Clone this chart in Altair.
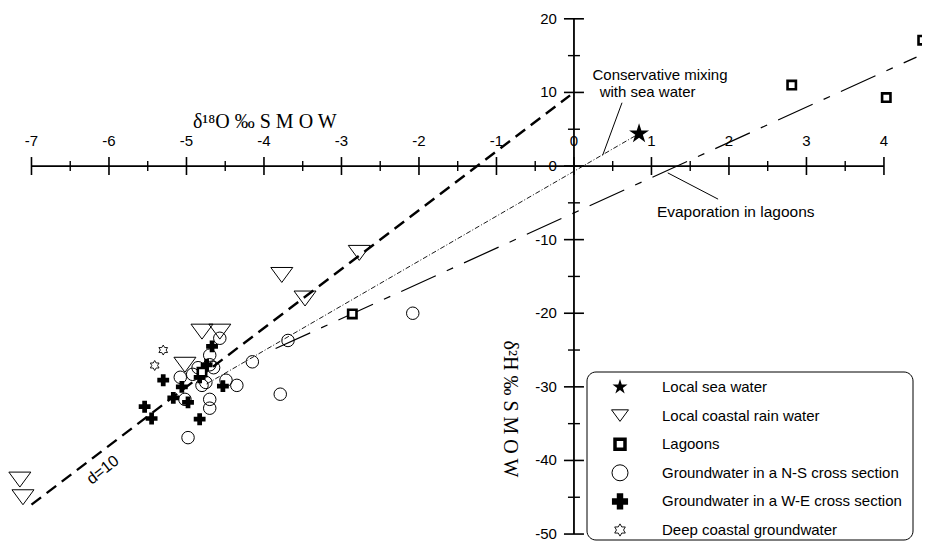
import altair as alt
import pandas as pd

# ---------------- data ----------------
sea_x = [0.84]
sea_y = [4.4]

rain_x = [-7.15, -7.11, -5.02, -4.80, -4.57, -3.77, -3.47, -2.77]
rain_y = [-42.6, -45.0, -27.0, -22.5, -22.5, -14.8, -18.0, -11.8]

lagoon_x = [-4.80, -2.86, 2.81, 4.03, 4.50]
lagoon_y = [-28.0, -20.1, 11.0, 9.3, 17.1]

ns_x = [-4.57, -4.70, -4.70, -4.85, -5.08, -5.02, -4.80, -4.70, -4.70, -4.35,
        -4.49, -4.15, -3.69, -3.79, -4.98, -2.08, -4.92, -4.65, -4.75]
ns_y = [-23.4, -25.7, -27.0, -27.4, -28.7, -31.7, -29.8, -31.7, -32.9, -29.8,
        -29.1, -26.6, -23.7, -31.0, -36.9, -20.0, -28.3, -27.4, -29.4]

we_x = [-5.30, -5.06, -5.17, -5.54, -5.45, -4.98, -4.83, -4.67, -4.53, -4.74, -4.83]
we_y = [-29.1, -30.0, -31.5, -32.7, -34.3, -32.1, -34.4, -24.5, -29.9, -27.0, -28.7]

deep_x = [-5.30, -5.41]
deep_y = [-25.0, -27.1]

# reference lines (end points)
gmwl_x = [-7.0, -0.05]
gmwl_y = [-46.0, 9.6]
mix_x = [-4.74, 0.84]
mix_y = [-29.6, 4.4]
evap_x = [-3.85, 4.42]
evap_y = [-24.8, 14.8]

# axis ticks
x_major = [-7, -6, -5, -4, -3, -2, -1, 0, 1, 2, 3, 4]
x_minor = [-6.5, -5.5, -4.5, -3.5, -2.5, -1.5, -0.5, 0.5, 1.5, 2.5, 3.5]
y_major = [-50, -40, -30, -20, -10, 0, 10, 20]
y_minor = [-45, -35, -25, -15, -5, 5, 15]

legend_labels = ["Local sea water", "Local coastal rain water", "Lagoons",
                 "Groundwater in a N-S cross section",
                 "Groundwater in a W-E cross section",
                 "Deep coastal groundwater"]

# ---------------- layout ----------------
W, H = 914, 534
XMIN, XMAX = -7.303, 4.491
YMIN, YMAX = -51.08, 21.47
PXX = W / (XMAX - XMIN)
PXY = H / (YMAX - YMIN)

xs = alt.Scale(domain=[XMIN, XMAX], nice=False, zero=False)
ys = alt.Scale(domain=[YMIN, YMAX], nice=False, zero=False)
FONT = "Liberation Sans"

TRI = "M-1,-0.68L1,-0.68L0,0.68Z"
STAR5 = ("M0,-1L0.223,-0.307L0.951,-0.309L0.361,0.117L0.588,0.809L0,0.38"
         "L-0.588,0.809L-0.361,0.117L-0.951,-0.309L-0.223,-0.307Z")
STAR6 = ("M0,-1L0.289,-0.5L0.866,-0.5L0.577,0L0.866,0.5L0.289,0.5L0,1"
         "L-0.289,0.5L-0.866,0.5L-0.577,0L-0.866,-0.5L-0.289,-0.5Z")


def XE(f="x"):
    return alt.X(f"{f}:Q", scale=xs, axis=None)


def YE(f="y"):
    return alt.Y(f"{f}:Q", scale=ys, axis=None)


def pts(xv, yv):
    return pd.DataFrame({"x": xv, "y": yv})


def seg(xv, yv):
    return pd.DataFrame({"x": [xv[0]], "y": [yv[0]], "x2": [xv[1]], "y2": [yv[1]]})


def rule(df, **kw):
    return alt.Chart(df).mark_rule(**kw).encode(
        x=XE(), y=YE(), x2=alt.X2("x2:Q"), y2=alt.Y2("y2:Q"))


layers = []

# axes lines
layers.append(rule(pd.DataFrame({"x": [x_major[0], 0], "x2": [x_major[-1], 0],
                                 "y": [0, y_major[0]], "y2": [0, y_major[-1]]}),
                   color="black", strokeWidth=1.8))
# x ticks
tl_maj, tl_min = 9 / PXY, 5 / PXY
layers.append(rule(pd.DataFrame({"x": x_major, "x2": x_major,
                                 "y": [-tl_maj] * len(x_major), "y2": [tl_maj] * len(x_major)}),
                   color="black", strokeWidth=1.6))
layers.append(rule(pd.DataFrame({"x": x_minor, "x2": x_minor,
                                 "y": [-tl_min] * len(x_minor), "y2": [tl_min] * len(x_minor)}),
                   color="black", strokeWidth=1.4))
# y ticks
yl_maj, yl_min = 10 / PXX, 6 / PXX
layers.append(rule(pd.DataFrame({"y": y_major, "y2": y_major,
                                 "x": [-yl_maj] * len(y_major), "x2": [yl_maj] * len(y_major)}),
                   color="black", strokeWidth=1.6))
layers.append(rule(pd.DataFrame({"y": y_minor, "y2": y_minor,
                                 "x": [-yl_min] * len(y_minor), "x2": [yl_min] * len(y_minor)}),
                   color="black", strokeWidth=1.4))

# tick labels
layers.append(alt.Chart(pd.DataFrame({"x": x_major, "y": [0] * len(x_major),
                                      "t": [str(v) for v in x_major]}))
              .mark_text(font=FONT, fontSize=15, dy=-25, baseline="middle", align="center")
              .encode(x=XE(), y=YE(), text="t:N"))
layers.append(alt.Chart(pd.DataFrame({"y": y_major, "x": [0] * len(y_major),
                                      "t": [str(v) for v in y_major]}))
              .mark_text(font=FONT, fontSize=15, dx=-17, baseline="middle", align="right")
              .encode(x=XE(), y=YE(), text="t:N"))

# axis titles
layers.append(alt.Chart(pd.DataFrame({"x": [-3.99], "y": [5.1], "t": ["δ¹⁸O  ‰  S M O W"]}))
              .mark_text(font="Liberation Serif", fontSize=20, baseline="alphabetic", align="center")
              .encode(x=XE(), y=YE(), text="t:N"))
layers.append(alt.Chart(pd.DataFrame({"x": [-0.83], "y": [-33.0], "t": ["δ²H  ‰  S M O W"]}))
              .mark_text(font="Liberation Serif", fontSize=20, baseline="middle", align="center", angle=90)
              .encode(x=XE(), y=YE(), text="t:N"))

# reference lines
layers.append(rule(seg(gmwl_x, gmwl_y), color="black", strokeWidth=2.4, strokeDash=[12, 7]))
layers.append(rule(seg(mix_x, mix_y), color="black", strokeWidth=0.9, strokeDash=[5, 2, 1, 2]))
layers.append(rule(seg(evap_x, evap_y), color="black", strokeWidth=1.2, strokeDash=[38, 12, 7, 12]))

# annotations
layers.append(rule(seg([0.62, 0.37], [8.6, 1.45]), color="black", strokeWidth=1))
layers.append(rule(seg([1.21, 1.86], [-0.93, -4.5]), color="black", strokeWidth=1))
layers.append(alt.Chart(pd.DataFrame({"x": [1.11, 0.95], "y": [12.3, 10.05],
                                      "t": ["Conservative mixing", "with sea water"]}))
              .mark_text(font=FONT, fontSize=15, baseline="middle", align="center")
              .encode(x=XE(), y=YE(), text="t:N"))
layers.append(alt.Chart(pd.DataFrame({"x": [1.07], "y": [-6.2], "t": ["Evaporation in lagoons"]}))
              .mark_text(font=FONT, fontSize=15.5, baseline="middle", align="left")
              .encode(x=XE(), y=YE(), text="t:N"))
layers.append(alt.Chart(pd.DataFrame({"x": [-6.08], "y": [-41.3], "t": ["d=10"]}))
              .mark_text(font=FONT, fontSize=16, baseline="middle", align="center", angle=322)
              .encode(x=XE(), y=YE(), text="t:N"))

# data points
def pt(xv, yv, **kw):
    return alt.Chart(pts(xv, yv)).mark_point(opacity=1, **kw).encode(x=XE(), y=YE())


layers.append(pt(ns_x, ns_y, shape="circle", size=156, filled=False, color="black", strokeWidth=1))
layers.append(pt(rain_x, rain_y, shape=TRI, size=484, filled=False, color="black", strokeWidth=1))
layers.append(pt(we_x, we_y, shape="cross", size=140, filled=True, color="black"))
layers.append(pt(deep_x, deep_y, shape=STAR6, size=100, filled=False, color="black", strokeWidth=0.9))
layers.append(pt(lagoon_x, lagoon_y, shape="square", size=70, filled=True, fill="white",
                 stroke="black", strokeWidth=2.6))
layers.append(pt(sea_x, sea_y, shape=STAR5, size=441, filled=True, color="black"))

# legend (pixel positions inside the plot area)
LX0, LX1, LY0, LY1 = 579, 905, 364, 532
layers.append(alt.Chart(pd.DataFrame({"a": [LX0], "b": [LX1], "c": [LY0], "d": [LY1]}))
              .mark_rect(cornerRadius=9, fill="white", stroke="black", strokeWidth=1)
              .encode(x=alt.X("a:Q", scale=None), x2="b:Q", y=alt.Y("c:Q", scale=None), y2="d:Q"))
row_y = [379 + i * 28.6 for i in range(len(legend_labels))]
leg_styles = [
    dict(shape=STAR5, size=250, filled=True, color="black"),
    dict(shape=TRI, size=289, filled=False, color="black", strokeWidth=1),
    dict(shape="square", size=100, filled=True, fill="white", stroke="black", strokeWidth=3.5),
    dict(shape="circle", size=256, filled=False, color="black", strokeWidth=1),
    dict(shape="cross", size=260, filled=True, color="black"),
    dict(shape=STAR6, size=150, filled=False, color="black", strokeWidth=0.9),
]
for yy, st in zip(row_y, leg_styles):
    layers.append(alt.Chart(pd.DataFrame({"px": [612], "py": [yy]}))
                  .mark_point(opacity=1, **st)
                  .encode(x=alt.X("px:Q", scale=None), y=alt.Y("py:Q", scale=None)))
layers.append(alt.Chart(pd.DataFrame({"px": [654] * len(legend_labels), "py": row_y,
                                      "t": legend_labels}))
              .mark_text(font=FONT, fontSize=15, align="left", baseline="middle")
              .encode(x=alt.X("px:Q", scale=None), y=alt.Y("py:Q", scale=None), text="t:N"))

chart = (alt.layer(*layers)
         .properties(width=W, height=H, padding=0,
                     autosize=alt.AutoSizeParams(type="none"), background="white")
         .configure_view(stroke=None))

chart.save("out.html", embed_options={"renderer": "svg", "actions": False})
